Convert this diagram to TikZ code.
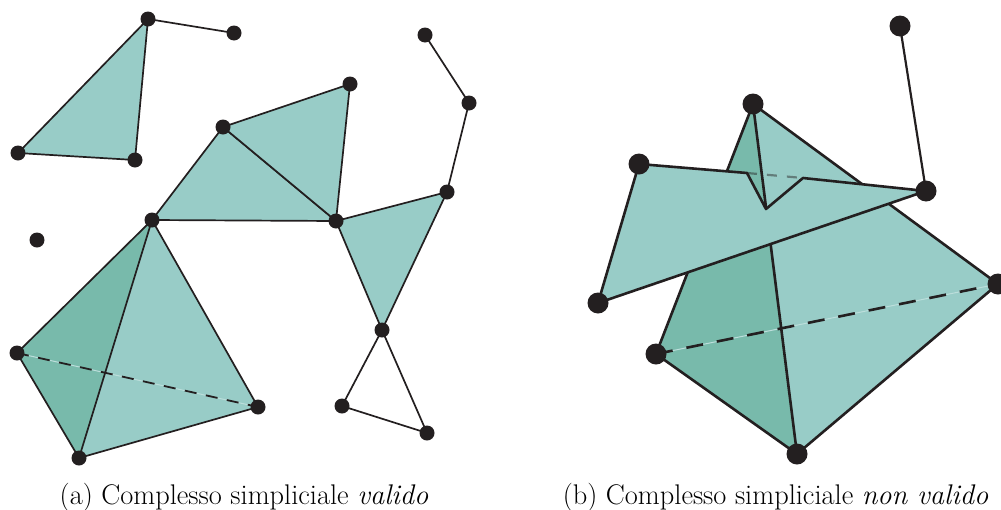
\documentclass[tikz,border=0pt]{standalone}
\usetikzlibrary{backgrounds}
\definecolor{lightface}{HTML}{98CCC7}
\definecolor{darkface}{HTML}{78BAAB}
\definecolor{ink}{HTML}{231F20}
\tikzset{
  vs/.style={circle,fill=ink,draw=none,inner sep=0pt,minimum size=15pt},
  vb/.style={circle,fill=ink,draw=none,inner sep=0pt,minimum size=21pt},
  el/.style={draw=ink,line width=1.7pt,line join=round},
  eb/.style={draw=ink,line width=2.6pt,line join=round},
  fl/.style={fill=lightface},
  fd/.style={fill=darkface},
  dashs/.style={draw=ink,line width=1.8pt,dash pattern=on 12pt off 9.5pt},
  dashb/.style={draw=ink,line width=2.6pt,dash pattern=on 17pt off 14pt},
  hair/.style={draw=lightface!65!white,line width=1pt},
  captext/.style={inner sep=0pt,font=\fontsize{28.4pt}{32pt}\selectfont}
}
\begin{document}
\begin{tikzpicture}[x=1pt,y=-1pt]
\useasboundingbox (0,0) rectangle (1001,509);
% left vertices
\node[vs] (a1) at (148,19) {};
\node[vs] (a2) at (234,33) {};
\node[vs] (a3) at (18,153) {};
\node[vs] (a4) at (135,160) {};
\node[vs] (iso) at (37,240) {};
\node[vs] (b) at (223,127) {};
\node[vs] (c) at (350,84) {};
\node[vs] (d) at (336,221) {};
\node[vs] (e) at (152,220) {};
\node[vs] (f) at (447,192) {};
\node[vs] (g) at (382,330) {};
\node[vs] (h) at (469,103) {};
\node[vs] (i) at (425,35) {};
\node[vs] (j) at (342,406) {};
\node[vs] (k) at (427,433) {};
\node[vs] (l) at (17,353) {};
\node[vs] (m) at (79,458) {};
\node[vs] (n) at (258,407) {};
% right vertices
\node[vb] (p1) at (900,26) {};
\node[vb] (p2) at (926,191) {};
\node[vb] (top) at (753,104) {};
\node[vb] (q1) at (639,164) {};
\node[vb] (q2) at (598,303) {};
\node[vb] (r) at (998,284) {};
\node[vb] (s) at (656,354) {};
\node[vb] (t) at (797,454) {};
\coordinate (n1) at (747,173);
\coordinate (n2) at (766,209);
\coordinate (n3) at (803,178);
% captions
\node[captext,anchor=base] (capa) at (244,504) {(a) Complesso simpliciale \textit{valido}};
\node[captext,anchor=base] (capb) at (775.5,504) {(b) Complesso simpliciale \textit{non valido}};
\begin{pgfonlayer}{background}
% left figure
\path[el,fl] (a1.center) -- (a3.center) -- (a4.center) -- cycle;
\path[el] (a1.center) -- (a2.center);
\path[el,fl] (b.center) -- (e.center) -- (d.center) -- cycle;
\path[el,fl] (b.center) -- (c.center) -- (d.center) -- cycle;
\path[el,fl] (d.center) -- (f.center) -- (g.center) -- cycle;
\path[el] (f.center) -- (h.center) -- (i.center);
\path[el] (g.center) -- (j.center) -- (k.center) -- (g.center);
\path[fd] (e.center) -- (l.center) -- (m.center) -- cycle;
\path[fl] (e.center) -- (m.center) -- (n.center) -- cycle;
\path[hair] (l.center) -- (n.center);
\path[dashs] (l.center) -- (n.center);
\path[el] (e.center) -- (l.center) -- (m.center) -- (n.center) -- (e.center) -- (m.center);
% right figure
\path[fd] (top.center) -- (s.center) -- (t.center) -- cycle;
\path[fl] (top.center) -- (t.center) -- (r.center) -- cycle;
\path[hair] (s.center) -- (r.center);
\path[dashb] (s.center) -- (r.center);
\path[eb] (top.center) -- (s.center) -- (t.center) -- (r.center) -- (top.center) -- (t.center);
\path[eb,fl] (q1.center) -- (n1) -- (n2) -- (n3) -- (p2.center) -- (q2.center) -- cycle;
\path[draw=ink,opacity=.45,line width=2.2pt,dash pattern=on 10pt off 10pt] (n1) -- (n3);
\path[draw=ink,line width=2.2pt] (p1.center) -- (p2.center);
\end{pgfonlayer}
\end{tikzpicture}
\end{document}
